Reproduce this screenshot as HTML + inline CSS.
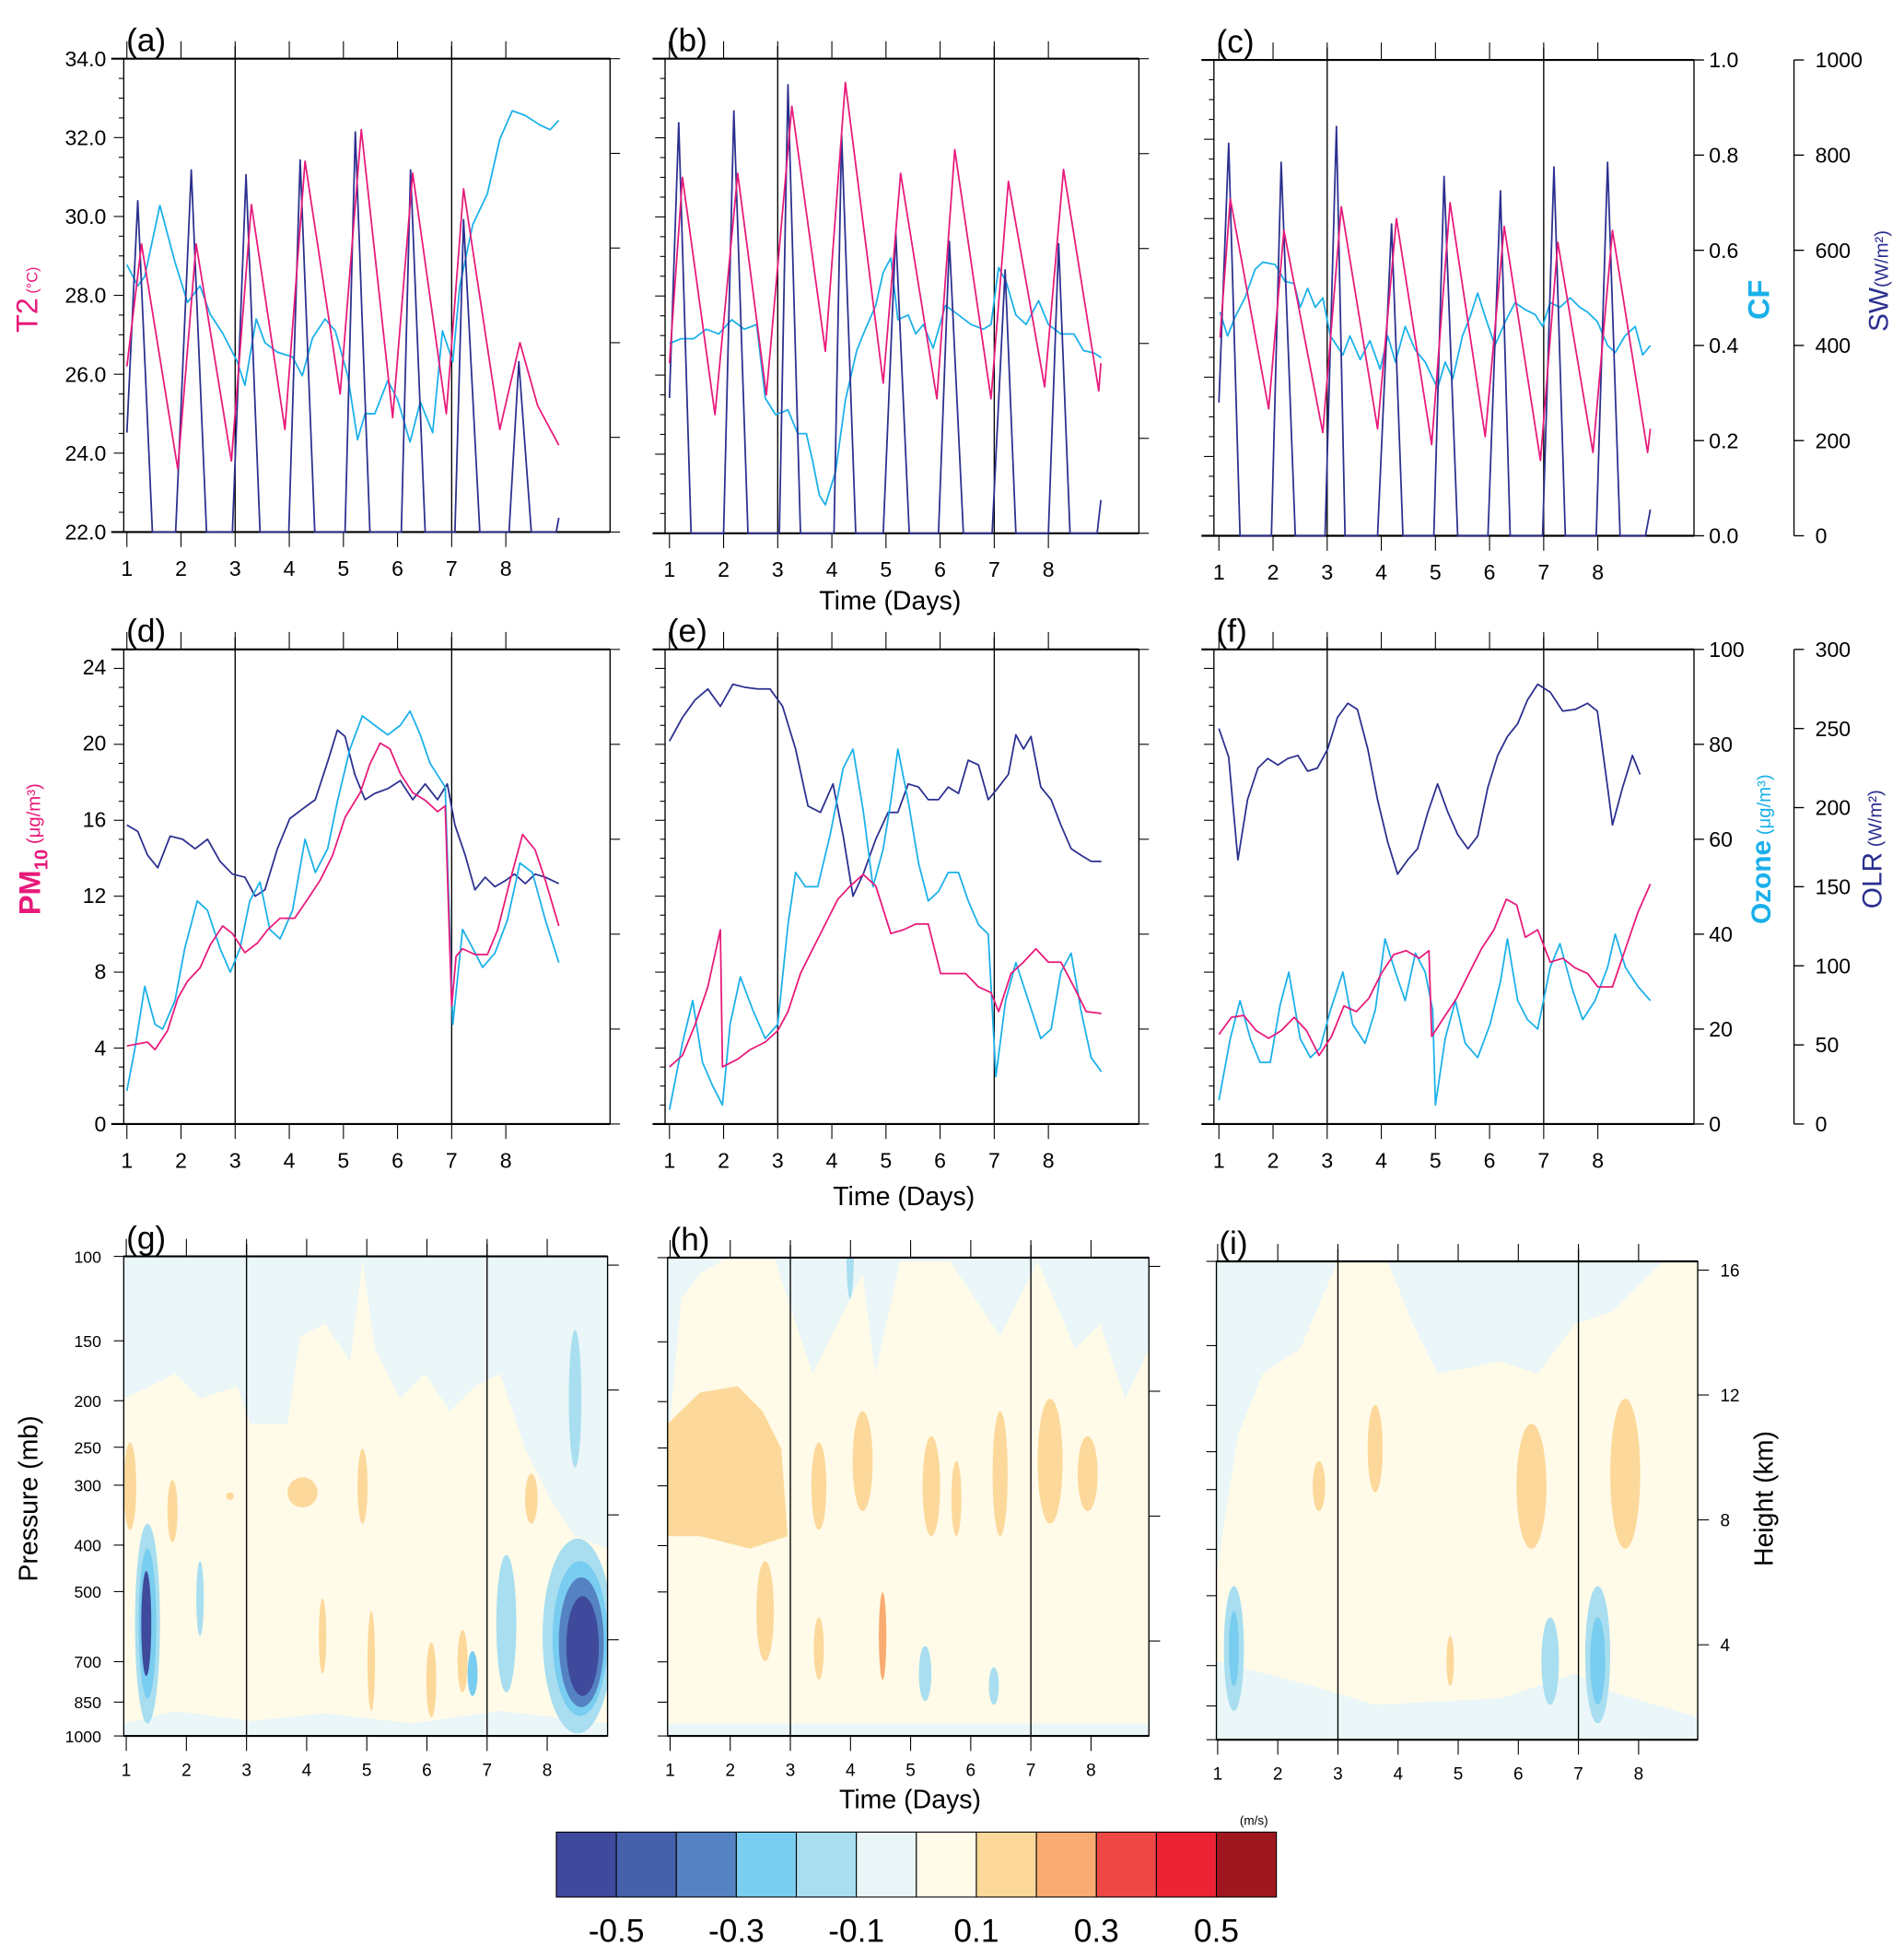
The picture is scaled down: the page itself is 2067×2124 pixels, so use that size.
<!DOCTYPE html>
<html><head><meta charset="utf-8">
<style>
html,body{margin:0;padding:0;background:#fff;}
svg{display:block;}
text{font-family:"Liberation Sans Narrow","Liberation Sans",sans-serif;fill:#000;}
</style></head>
<body>
<svg id="chart" xmlns="http://www.w3.org/2000/svg" width="2067" height="2124" viewBox="0 0 1523 1567" preserveAspectRatio="none">
<defs>
<clipPath id="cg"><rect x="99" y="1006" width="387" height="384"/></clipPath>
<clipPath id="ch"><rect x="534" y="1007" width="385" height="383"/></clipPath>
<clipPath id="ci"><rect x="973" y="1010" width="385" height="383"/></clipPath>
</defs>

<g clip-path="url(#cg)">
<rect x="99" y="1006" width="387" height="384" fill="#eaf6f8"/>
<polygon fill="#fffbe8" points="99,1120 120,1110 140,1100 160,1120 190,1110 200,1140 230,1140 240,1070 260,1060 280,1090 290,1010 300,1080 320,1120 340,1100 360,1130 380,1110 400,1100 420,1160 440,1200 460,1230 486,1240 486,1390 99,1390"/>
<polygon fill="#eaf6f8" points="99,1380 140,1370 200,1378 260,1372 330,1380 400,1370 486,1380 486,1390 99,1390"/>
<ellipse cx="104" cy="1190" rx="5" ry="35" fill="#fdd89b"/>
<ellipse cx="138" cy="1210" rx="4" ry="25" fill="#fdd89b"/>
<ellipse cx="242" cy="1195" rx="12" ry="12" fill="#fdd89b"/>
<ellipse cx="290" cy="1190" rx="4" ry="30" fill="#fdd89b"/>
<ellipse cx="425" cy="1200" rx="5" ry="20" fill="#fdd89b"/>
<ellipse cx="184" cy="1198" rx="3" ry="3" fill="#fdd89b"/>
<ellipse cx="258" cy="1310" rx="3" ry="30" fill="#fdd89b"/>
<ellipse cx="297" cy="1330" rx="3" ry="40" fill="#fdd89b"/>
<ellipse cx="345" cy="1345" rx="4" ry="30" fill="#fdd89b"/>
<ellipse cx="370" cy="1330" rx="4" ry="25" fill="#fdd89b"/>
<ellipse cx="118" cy="1300" rx="10" ry="80" fill="#a8def0"/>
<ellipse cx="118" cy="1300" rx="7" ry="60" fill="#78cdf0"/>
<ellipse cx="117" cy="1300" rx="4" ry="42" fill="#3f4a9c"/>
<ellipse cx="160" cy="1280" rx="3" ry="30" fill="#a8def0"/>
<ellipse cx="405" cy="1300" rx="8" ry="55" fill="#a8def0"/>
<ellipse cx="460" cy="1120" rx="5" ry="55" fill="#a8def0"/>
<ellipse cx="462" cy="1310" rx="28" ry="78" fill="#a8def0"/>
<ellipse cx="464" cy="1312" rx="22" ry="62" fill="#78cdf0"/>
<ellipse cx="465" cy="1315" rx="18" ry="52" fill="#5582c2"/>
<ellipse cx="466" cy="1318" rx="13" ry="40" fill="#3f4a9c"/>
<ellipse cx="378" cy="1340" rx="4" ry="18" fill="#78cdf0"/>
</g>

<g clip-path="url(#ch)">
<rect x="534" y="1007" width="385" height="383" fill="#eaf6f8"/>
<polygon fill="#fffbe8" points="534,1160 545,1040 560,1020 580,1008 620,1008 630,1040 650,1100 670,1060 690,1020 700,1100 720,1010 760,1010 780,1040 800,1070 830,1010 860,1080 880,1060 900,1120 919,1080 919,1380 534,1380"/>
<polygon fill="#fdd89b" points="534,1140 560,1115 590,1110 610,1130 625,1160 630,1230 600,1240 560,1230 534,1230"/>
<ellipse cx="655" cy="1190" rx="6" ry="35" fill="#fdd89b"/>
<ellipse cx="690" cy="1170" rx="8" ry="40" fill="#fdd89b"/>
<ellipse cx="745" cy="1190" rx="7" ry="40" fill="#fdd89b"/>
<ellipse cx="765" cy="1200" rx="4" ry="30" fill="#fdd89b"/>
<ellipse cx="800" cy="1180" rx="6" ry="50" fill="#fdd89b"/>
<ellipse cx="840" cy="1170" rx="10" ry="50" fill="#fdd89b"/>
<ellipse cx="870" cy="1180" rx="8" ry="30" fill="#fdd89b"/>
<ellipse cx="612" cy="1290" rx="7" ry="40" fill="#fdd89b"/>
<ellipse cx="655" cy="1320" rx="4" ry="25" fill="#fdd89b"/>
<ellipse cx="706" cy="1310" rx="3" ry="35" fill="#f9ab72"/>
<ellipse cx="740" cy="1340" rx="5" ry="22" fill="#a8def0"/>
<ellipse cx="795" cy="1350" rx="4" ry="15" fill="#a8def0"/>
<ellipse cx="680" cy="1000" rx="3" ry="40" fill="#a8def0"/>
</g>

<g clip-path="url(#ci)">
<rect x="973" y="1010" width="385" height="383" fill="#eaf6f8"/>
<polygon fill="#fffbe8" points="973,1393 973,1260 990,1150 1010,1100 1040,1080 1070,1010 1110,1010 1130,1060 1150,1100 1200,1090 1230,1100 1260,1060 1290,1050 1310,1030 1330,1010 1358,1010 1358,1393"/>
<polygon fill="#eaf6f8" points="973,1393 973,1330 1050,1350 1100,1365 1200,1360 1260,1340 1290,1355 1358,1375 1358,1393"/>
<ellipse cx="1225" cy="1190" rx="12" ry="50" fill="#fdd89b"/>
<ellipse cx="1300" cy="1180" rx="12" ry="60" fill="#fdd89b"/>
<ellipse cx="1100" cy="1160" rx="6" ry="35" fill="#fdd89b"/>
<ellipse cx="1055" cy="1190" rx="5" ry="20" fill="#fdd89b"/>
<ellipse cx="1160" cy="1330" rx="3" ry="20" fill="#fdd89b"/>
<ellipse cx="987" cy="1320" rx="8" ry="50" fill="#a8def0"/>
<ellipse cx="987" cy="1320" rx="4" ry="30" fill="#78cdf0"/>
<ellipse cx="1278" cy="1325" rx="10" ry="55" fill="#a8def0"/>
<ellipse cx="1278" cy="1330" rx="6" ry="35" fill="#78cdf0"/>
<ellipse cx="1240" cy="1330" rx="7" ry="35" fill="#a8def0"/>
</g>
</svg>

<script>
const aT2Days=[1.0,1.27,1.94,2.28,2.93,3.3,3.92,4.29,4.94,5.33,5.91,6.28,6.9,7.22,7.89,8.26,8.59,8.98];
const aT2Vals=[26.2,29.3,23.6,29.3,23.8,30.3,24.6,31.4,25.5,32.2,24.9,31.1,25.0,30.7,24.6,26.8,25.2,24.2];
const aSWDays=[1.0,1.2,1.47,1.9,2.19,2.47,2.95,3.2,3.46,3.99,4.2,4.47,5.03,5.22,5.49,6.07,6.24,6.51,7.06,7.22,7.52,8.06,8.24,8.47,8.93,8.98];
const aSWVals=[210,700,0,0,765,0,0,755,0,0,786,0,0,845,0,0,765,0,0,660,0,0,360,0,0,30];
const aCFDays=[1.0,1.2,1.33,1.61,1.89,2.12,2.35,2.54,2.77,3.04,3.18,3.39,3.55,3.78,4.06,4.24,4.43,4.66,4.85,5.08,5.26,5.4,5.58,5.82,6.0,6.23,6.42,6.65,6.83,7.02,7.15,7.39,7.66,7.89,8.12,8.36,8.63,8.82,8.98];
const aCFVals=[0.565,0.52,0.54,0.69,0.57,0.485,0.52,0.46,0.42,0.36,0.31,0.45,0.40,0.38,0.37,0.33,0.41,0.45,0.425,0.33,0.195,0.25,0.25,0.32,0.28,0.19,0.275,0.21,0.425,0.36,0.52,0.65,0.715,0.83,0.89,0.88,0.86,0.85,0.87];

const bT2Days=[1.0,1.24,1.84,2.26,2.79,3.26,3.88,4.25,4.95,5.27,5.94,6.27,6.94,7.26,7.93,8.28,8.93,8.97];
const bT2Vals=[26.3,31.0,25.0,31.1,25.5,32.8,26.6,33.4,25.8,31.1,25.4,31.7,25.4,30.9,25.7,31.2,25.6,26.3];
const bSWDays=[1.0,1.17,1.4,2.0,2.19,2.45,3.03,3.19,3.42,4.04,4.18,4.44,4.95,5.18,5.43,5.97,6.17,6.43,6.96,7.2,7.4,8.0,8.19,8.4,8.9,8.97];
const bSWVals=[285,865,0,0,890,0,0,945,0,0,840,0,0,635,0,0,615,0,0,555,0,0,610,0,0,70];
const bCFDays=[1.0,1.22,1.45,1.68,1.91,2.15,2.38,2.61,2.77,2.96,3.19,3.37,3.53,3.65,3.77,3.88,4.07,4.25,4.46,4.62,4.81,4.95,5.09,5.22,5.41,5.55,5.69,5.87,6.1,6.34,6.57,6.8,6.94,7.08,7.22,7.4,7.59,7.82,8.0,8.23,8.47,8.65,8.84,8.98];
const bCFVals=[0.40,0.41,0.41,0.43,0.42,0.45,0.43,0.44,0.285,0.25,0.26,0.21,0.21,0.15,0.08,0.06,0.13,0.28,0.385,0.43,0.48,0.55,0.58,0.45,0.46,0.42,0.44,0.39,0.48,0.46,0.44,0.43,0.44,0.56,0.53,0.46,0.44,0.49,0.44,0.42,0.42,0.385,0.38,0.37];

const cT2Days=[1.02,1.21,1.92,2.2,2.92,3.26,3.93,4.28,4.93,5.27,5.92,6.27,6.94,7.26,7.91,8.27,8.92,8.97];
const cT2Vals=[27.0,30.5,25.2,29.7,24.6,30.3,24.7,30.0,24.3,30.4,24.5,29.8,23.9,29.4,24.1,29.7,24.1,24.7];
const cSWDays=[1.0,1.18,1.39,1.97,2.15,2.41,2.96,3.17,3.33,3.93,4.19,4.4,4.97,5.16,5.41,5.97,6.2,6.38,6.98,7.19,7.4,7.97,8.18,8.41,8.88,8.97];
const cSWVals=[280,825,0,0,785,0,0,860,0,0,655,0,0,755,0,0,725,0,0,775,0,0,785,0,0,55];
const cCFDays=[1.02,1.16,1.3,1.48,1.67,1.81,2.04,2.22,2.39,2.5,2.64,2.78,2.92,3.06,3.29,3.42,3.61,3.79,3.98,4.12,4.26,4.44,4.63,4.81,5.04,5.18,5.32,5.5,5.64,5.78,5.92,6.1,6.29,6.47,6.66,6.84,6.98,7.12,7.3,7.49,7.67,7.81,7.99,8.18,8.32,8.5,8.69,8.83,8.97];
const cCFVals=[0.47,0.42,0.46,0.50,0.56,0.575,0.57,0.535,0.53,0.48,0.52,0.48,0.50,0.42,0.38,0.42,0.37,0.41,0.35,0.42,0.365,0.44,0.39,0.365,0.31,0.365,0.33,0.42,0.46,0.51,0.46,0.40,0.45,0.49,0.475,0.465,0.44,0.49,0.48,0.50,0.48,0.47,0.45,0.40,0.385,0.42,0.44,0.38,0.40];

const dPMDays=[1.0,1.38,1.52,1.75,1.94,2.12,2.35,2.54,2.77,2.95,3.18,3.41,3.6,3.83,4.1,4.34,4.57,4.8,5.03,5.31,5.49,5.68,5.86,6.05,6.28,6.51,6.74,6.88,7.0,7.08,7.2,7.43,7.66,7.85,8.08,8.31,8.54,8.73,8.98];
const dPMVals=[4.1,4.3,3.9,4.9,6.6,7.5,8.2,9.4,10.4,10.0,9.0,9.5,10.2,10.8,10.8,11.8,12.8,14.1,16.1,17.4,18.9,20.0,19.7,18.4,17.4,17.0,16.4,16.7,6.2,8.8,9.2,8.9,8.9,10.2,12.8,15.2,14.4,12.8,10.4];
const dO3Days=[1.0,1.15,1.33,1.52,1.66,1.89,2.07,2.3,2.49,2.72,2.91,3.09,3.27,3.46,3.64,3.83,4.06,4.29,4.48,4.71,4.89,5.12,5.35,5.58,5.82,6.05,6.23,6.42,6.6,6.88,7.02,7.2,7.39,7.57,7.8,8.03,8.26,8.49,8.73,8.98];
const dO3Vals=[7,16,29,21,20,26,37,47,45,37,32,37,47,51,41,39,45,60,53,58,68,79,86,84,82,84,87,82,76,71,21,41,37,33,36,43,55,53,43,34];
const dOLRDays=[1.0,1.2,1.38,1.57,1.8,2.03,2.26,2.49,2.72,2.95,3.18,3.37,3.55,3.78,4.01,4.24,4.48,4.71,4.89,5.03,5.21,5.4,5.58,5.82,6.05,6.28,6.51,6.74,6.92,7.06,7.25,7.43,7.62,7.8,8.0,8.16,8.36,8.54,8.73,8.98];
const dOLRVals=[189,185,170,162,182,180,174,180,166,158,156,144,148,174,193,199,205,229,249,245,221,205,209,212,217,205,215,205,215,189,170,148,156,150,154,158,152,158,156,152];

const ePMDays=[1.0,1.24,1.47,1.71,1.94,1.98,2.26,2.49,2.77,3.0,3.19,3.42,3.65,3.88,4.11,4.34,4.58,4.81,5.09,5.32,5.55,5.78,6.01,6.24,6.47,6.71,6.94,7.08,7.31,7.54,7.77,8.0,8.23,8.47,8.7,8.98];
const ePMVals=[3.0,3.6,5.2,7.2,10.2,3.0,3.4,3.9,4.3,4.9,5.9,7.9,9.2,10.5,11.8,12.5,13.1,12.5,10.0,10.2,10.5,10.5,7.9,7.9,7.9,7.2,6.9,5.9,7.9,8.5,9.2,8.5,8.5,7.2,5.9,5.8];
const eO3Days=[1.0,1.24,1.43,1.61,1.8,1.98,2.12,2.31,2.54,2.77,3.0,3.19,3.33,3.51,3.74,3.97,4.21,4.39,4.58,4.76,4.95,5.09,5.22,5.41,5.6,5.78,5.97,6.15,6.34,6.52,6.71,6.89,7.03,7.21,7.4,7.63,7.86,8.05,8.23,8.42,8.6,8.79,8.98];
const eO3Vals=[3,17,26,13,8,4,21,31,24,18,21,42,53,50,50,61,75,79,66,50,58,68,79,68,55,47,49,53,53,47,42,40,10,26,34,26,18,20,32,36,24,14,11];
const eOLRDays=[1.0,1.24,1.47,1.71,1.94,2.17,2.4,2.63,2.86,3.09,3.33,3.56,3.79,4.02,4.21,4.39,4.58,4.81,5.04,5.22,5.41,5.6,5.78,5.97,6.15,6.34,6.52,6.71,6.89,7.08,7.26,7.4,7.54,7.68,7.86,8.05,8.23,8.42,8.6,8.79,8.98];
const eOLRVals=[242,257,268,275,264,278,276,275,275,264,237,201,197,215,182,144,158,180,197,197,215,213,205,205,213,209,230,227,205,213,221,246,237,245,213,205,189,174,170,166,166];

const fPMDays=[1.0,1.23,1.46,1.69,1.92,2.15,2.39,2.62,2.85,3.08,3.31,3.54,3.77,4.0,4.23,4.46,4.7,4.88,4.93,5.16,5.39,5.62,5.85,6.08,6.31,6.5,6.66,6.89,7.12,7.35,7.58,7.81,8.0,8.27,8.51,8.74,8.97];
const fPMVals=[4.7,5.6,5.7,4.9,4.5,4.9,5.6,4.9,3.6,4.6,6.2,5.9,6.6,7.9,8.9,9.1,8.7,9.1,4.6,5.6,6.6,7.9,9.2,10.2,11.8,11.5,9.8,10.2,8.5,8.7,8.2,7.9,7.2,7.2,9.2,11.1,12.6];
const fO3Days=[1.0,1.21,1.39,1.58,1.76,1.95,2.13,2.29,2.5,2.69,2.87,3.06,3.29,3.47,3.7,3.89,4.07,4.26,4.44,4.63,4.81,4.95,5.0,5.18,5.37,5.55,5.78,6.01,6.2,6.33,6.52,6.7,6.89,7.12,7.3,7.54,7.72,7.95,8.18,8.32,8.51,8.74,8.97];
const fO3Vals=[5,18,26,18,13,13,25,32,18,14,16,24,32,21,17,24,39,32,26,36,32,24,4,18,26,17,14,21,30,39,26,22,20,33,38,28,22,26,33,40,33,29,26];
const fOLRDays=[1.0,1.18,1.35,1.53,1.72,1.9,2.09,2.27,2.46,2.64,2.82,3.01,3.19,3.38,3.56,3.75,3.93,4.12,4.3,4.49,4.67,4.86,5.04,5.23,5.41,5.6,5.78,5.97,6.15,6.33,6.52,6.7,6.89,7.12,7.35,7.58,7.81,7.99,8.18,8.27,8.46,8.64,8.78];
const fOLRVals=[250,232,167,205,225,231,227,231,233,223,225,237,257,266,262,237,205,178,158,167,174,197,215,197,183,174,182,213,233,245,253,268,278,273,261,262,266,261,213,189,213,233,221];

const t2Ticks=[22,24,26,28,30,32,34];
const cfTicks=[0,0.2,0.4,0.6,0.8,1.0];
const swTicks=[0,200,400,600,800,1000];
const pmTicks=[0,4,8,12,16,20,24];
const o3Ticks=[0,20,40,60,80,100];
const olrTicks=[0,50,100,150,200,250,300];
const presTicks=[100,150,200,250,300,400,500,700,850,1000];
const heightTicks=[4,8,12,16];
const dayTicks=[1,2,3,4,5,6,7,8];
const cbarLabels=["-0.5","-0.3","-0.1","0.1","0.3","0.5"];
const cbarColors=["#3f4a9c","#4561ab","#5582c2","#78cdf0","#a8def0","#e9f5f7","#fffbe8","#fdd89b","#f9ab72","#ee4844","#eb2334","#a1171f"];

const NS='http://www.w3.org/2000/svg';
const svg=document.getElementById('chart');
function mk(tag,attrs,parent){const e=document.createElementNS(NS,tag);for(const k in attrs)e.setAttribute(k,attrs[k]);(parent||svg).appendChild(e);return e;}
function txt(x,y,s,size,anchor,parent,extra){const t=mk('text',Object.assign({x:x,y:y,'font-size':size,'text-anchor':anchor||'middle'},extra||{}),parent);t.textContent=s;return t;}

const MAG='#e8197a',CYA='#1ab0ea',NAV='#2b2f8f';
const DAYW=43.3;

function line(x1,y1,x2,y2,parent,w){return mk('line',{x1:x1,y1:y1,x2:x2,y2:y2,stroke:'#000','stroke-width':w||1},parent);}

function framePanel(p,label,dayW,yMinorCount,showLeft){
  const g=mk('g',{});
  
  
  const r=mk('rect',{x:p.x0,y:p.y0,width:p.x1-p.x0,height:p.y1-p.y0,fill:'none',stroke:'#000','stroke-width':1},g);
  
  
  line(p.x0-10,p.y0,p.x1,p.y0,g,1.6);
  line(p.x0-10,p.y1,p.x1,p.y1,g,1.6);
  [3,7].forEach(function(d){
    const vx=p.X1+(d-1)*dayW;
    const l=line(vx,p.y0-10,vx,p.y1,g,1);
    
    
  });
  dayTicks.forEach(function(d){
    const vx=p.X1+(d-1)*dayW;
    line(vx,p.y0,vx,p.y0-14,g,0.8);
    line(vx,p.y1,vx,p.y1+12,g,0.8);
    const t=txt(vx,p.y1+35,String(d),17,'middle',g);
    
    
  });
  for(let i=0;i<=yMinorCount;i++){
    const yy=p.y1-(p.y1-p.y0)*i/yMinorCount;
    line(p.x0-((i%4===0)?8:4),yy,p.x0,yy,g,0.8);
  }
  const pl=txt(p.x0+2,p.y0-6,'('+label+')',26,'start',g,{'font-family':'Liberation Sans, sans-serif'});
  
  
  return g;
}

function series(g,p,days,vals,vmin,vmax,color,name,dayW){
  const xs=function(d){return p.X1+(d-1)*dayW;};
  const ys=function(v){return p.y1-(v-vmin)/(vmax-vmin)*(p.y1-p.y0);};
  const pts=days.map(function(d,i){return xs(d).toFixed(1)+','+ys(vals[i]).toFixed(1);}).join(' ');
  const pl=mk('polyline',{points:pts,fill:'none',stroke:color,'stroke-width':1.3,'stroke-linejoin':'round'},g);
  
  
}

const row1=[
 {label:'a',x0:99,x1:488,y0:47,y1:426,X1:101.5,T:[aT2Days,aT2Vals],S:[aSWDays,aSWVals],C:[aCFDays,aCFVals]},
 {label:'b',x0:532,x1:911,y0:47,y1:427,X1:535.5,T:[bT2Days,bT2Vals],S:[bSWDays,bSWVals],C:[bCFDays,bCFVals]},
 {label:'c',x0:971,x1:1355,y0:48,y1:429,X1:975,T:[cT2Days,cT2Vals],S:[cSWDays,cSWVals],C:[cCFDays,cCFVals]}
];
row1.forEach(function(p,idx){
  const g=framePanel(p,p.label,DAYW,24,idx===0);
  series(g,p,p.C[0],p.C[1],0,1,CYA,'cf-line-'+p.label,DAYW);
  series(g,p,p.S[0],p.S[1],0,1000,NAV,'sw-line-'+p.label,DAYW);
  series(g,p,p.T[0],p.T[1],22,34,MAG,'t2-line-'+p.label,DAYW);
  if(idx<2){cfTicks.forEach(function(v){const yy=p.y1-v*(p.y1-p.y0);line(p.x1,yy,p.x1+8,yy,g,0.8);});}
});
t2Ticks.forEach(function(v){
  const p=row1[0];const yy=p.y1-(v-22)/12*(p.y1-p.y0);
  const t=txt(p.x0-14,yy+6,v.toFixed(1),17,'end');
  
  
});
(function(){
  const p=row1[2];
  line(1435,p.y0,1435,p.y1);
  cfTicks.forEach(function(v){const yy=p.y1-v*(p.y1-p.y0);line(p.x1,yy,p.x1+8,yy);
    const t=txt(p.x1+12,yy+6,v.toFixed(1),17,'start');
    
    });
  swTicks.forEach(function(v){const yy=p.y1-v/1000*(p.y1-p.y0);line(1435,yy,1443,yy);
    const t=txt(1452,yy+6,String(v),17,'start');
    
    });
})();
let tt;
tt=txt(30,240,'',24,'middle',null,{transform:'rotate(-90 30 240)'});
tt.innerHTML='<tspan style="fill:'+MAG+'">T2</tspan><tspan font-size="12" style="fill:'+MAG+'"> (°C)</tspan>';


tt=txt(1415,240,'CF',24,'middle',null,{transform:'rotate(-90 1415 240)',style:'fill:'+CYA+';font-family:Liberation Sans,sans-serif;font-weight:bold'});


tt=txt(1510,225,'',22,'middle',null,{transform:'rotate(-90 1510 225)',style:'fill:'+NAV+';font-family:Liberation Sans,sans-serif'});
tt.innerHTML='<tspan style="fill:'+NAV+'">SW</tspan><tspan font-size="15" style="fill:'+NAV+'">(W/m²)</tspan>';


tt=txt(712,488,'Time (Days)',21,'middle',null,{style:'font-family:Liberation Sans,sans-serif'});



const row2=[
 {label:'d',x0:99,x1:488,y0:520,y1:900,X1:101.5,P:[dPMDays,dPMVals],O:[dO3Days,dO3Vals],L:[dOLRDays,dOLRVals]},
 {label:'e',x0:532,x1:911,y0:520,y1:900,X1:535.5,P:[ePMDays,ePMVals],O:[eO3Days,eO3Vals],L:[eOLRDays,eOLRVals]},
 {label:'f',x0:971,x1:1355,y0:520,y1:900,X1:975,P:[fPMDays,fPMVals],O:[fO3Days,fO3Vals],L:[fOLRDays,fOLRVals]}
];
const PMMAX=380/15.25;
row2.forEach(function(p,idx){
  const g=framePanel(p,p.label,DAYW,25,idx===0);
  series(g,p,p.L[0],p.L[1],0,300,NAV,'olr-line-'+p.label,DAYW);
  series(g,p,p.O[0],p.O[1],0,100,CYA,'ozone-line-'+p.label,DAYW);
  series(g,p,p.P[0],p.P[1],0,PMMAX,MAG,'pm10-line-'+p.label,DAYW);
  if(idx<2){o3Ticks.forEach(function(v){const yy=p.y1-v/100*(p.y1-p.y0);line(p.x1,yy,p.x1+8,yy,g,0.8);});}
});
pmTicks.forEach(function(v){
  const p=row2[0];const yy=p.y1-v/PMMAX*(p.y1-p.y0);
  const t=txt(p.x0-14,yy+6,String(v),17,'end');
  
  
});
(function(){
  const p=row2[2];
  line(1435,p.y0,1435,p.y1);
  o3Ticks.forEach(function(v){const yy=p.y1-v/100*(p.y1-p.y0);line(p.x1,yy,p.x1+8,yy);
    const t=txt(p.x1+12,yy+6,String(v),17,'start');
    
    });
  olrTicks.forEach(function(v){const yy=p.y1-v/300*(p.y1-p.y0);line(1435,yy,1443,yy);
    const t=txt(1452,yy+6,String(v),17,'start');
    
    });
})();
tt=txt(32,680,'',24,'middle',null,{transform:'rotate(-90 32 680)',style:'font-family:Liberation Sans,sans-serif'});
tt.innerHTML='<tspan style="fill:'+MAG+';font-weight:bold">PM</tspan><tspan font-size="15" dy="6" style="fill:'+MAG+';font-weight:bold">10</tspan><tspan font-size="15" dy="-6" style="fill:'+MAG+'"> (μg/m³)</tspan>';


tt=txt(1416,680,'',22,'middle',null,{transform:'rotate(-90 1416 680)',style:'font-family:Liberation Sans,sans-serif'});
tt.innerHTML='<tspan style="fill:'+CYA+';font-weight:bold">Ozone</tspan><tspan font-size="15" style="fill:'+CYA+'"> (μg/m³)</tspan>';


tt=txt(1505,680,'',22,'middle',null,{transform:'rotate(-90 1505 680)',style:'font-family:Liberation Sans,sans-serif'});
tt.innerHTML='<tspan style="fill:'+NAV+'">OLR</tspan><tspan font-size="15" style="fill:'+NAV+'"> (W/m²)</tspan>';


tt=txt(723,965,'Time (Days)',21,'middle',null,{style:'font-family:Liberation Sans,sans-serif'});



const row3=[
 {label:'g',x0:99,x1:486,y0:1006,y1:1390,X1:101},
 {label:'h',x0:534,x1:919,y0:1007,y1:1390,X1:536},
 {label:'i',x0:973,x1:1358,y0:1010,y1:1393,X1:974}
];
row3.forEach(function(p,idx){
  const g=mk('g',{});
  
  
  mk('rect',{x:p.x0,y:p.y0,width:p.x1-p.x0,height:p.y1-p.y0,fill:'none',stroke:'#000','stroke-width':1},g);
  line(p.x0,p.y0,p.x1,p.y0,g,1.6);line(p.x0,p.y1,p.x1,p.y1,g,1.6);
  [3,7].forEach(function(d){const vx=p.X1+(d-1)*48.1;line(vx,p.y0-10,vx,p.y1,g,1);});
  dayTicks.forEach(function(d){const vx=p.X1+(d-1)*48.1;line(vx,p.y0,vx,p.y0-14,g,0.8);line(vx,p.y1,vx,p.y1+12,g,0.8);
    const t=txt(vx,p.y1+32,String(d),14,'middle',g);
    
    });
  const ph=p.y1-p.y0;
  presTicks.forEach(function(v){const yy=p.y0+ph*Math.log10(v/100);line(p.x0-8,yy,p.x0,yy,g,0.8);
    if(idx===0){const t=txt(p.x0-18,yy+5,String(v),13,'end',g);
      
      }});
  heightTicks.forEach(function(v){const yy=p.y0+7+(16-v)*25;line(p.x1,yy,p.x1+9,yy,g,0.8);
    if(idx===2){const t=txt(p.x1+18,yy+5,String(v),14,'start',g);
      
      }});
  const pl=txt(p.x0+2,p.y0-6,'('+p.label+')',26,'start',g,{'font-family':'Liberation Sans, sans-serif'});
  
  
});
tt=txt(30,1200,'Pressure (mb)',21,'middle',null,{transform:'rotate(-90 30 1200)',style:'font-family:Liberation Sans,sans-serif'});


tt=txt(1418,1200,'Height (km)',21,'middle',null,{transform:'rotate(-90 1418 1200)',style:'font-family:Liberation Sans,sans-serif'});


tt=txt(728,1448,'Time (Days)',21,'middle',null,{style:'font-family:Liberation Sans,sans-serif'});



const cb=mk('g',{});


cbarColors.forEach(function(c,i){
  const r=mk('rect',{x:445+i*48,y:1467,width:48,height:52,fill:c,stroke:'#000','stroke-width':0.8},cb);
  
  
});
cbarLabels.forEach(function(s,i){
  const t=txt(493+i*96,1555,s,26,'middle',cb);
  
  
});
tt=txt(1003,1461,'(m/s)',10,'middle',cb);


</script>
</body></html>
